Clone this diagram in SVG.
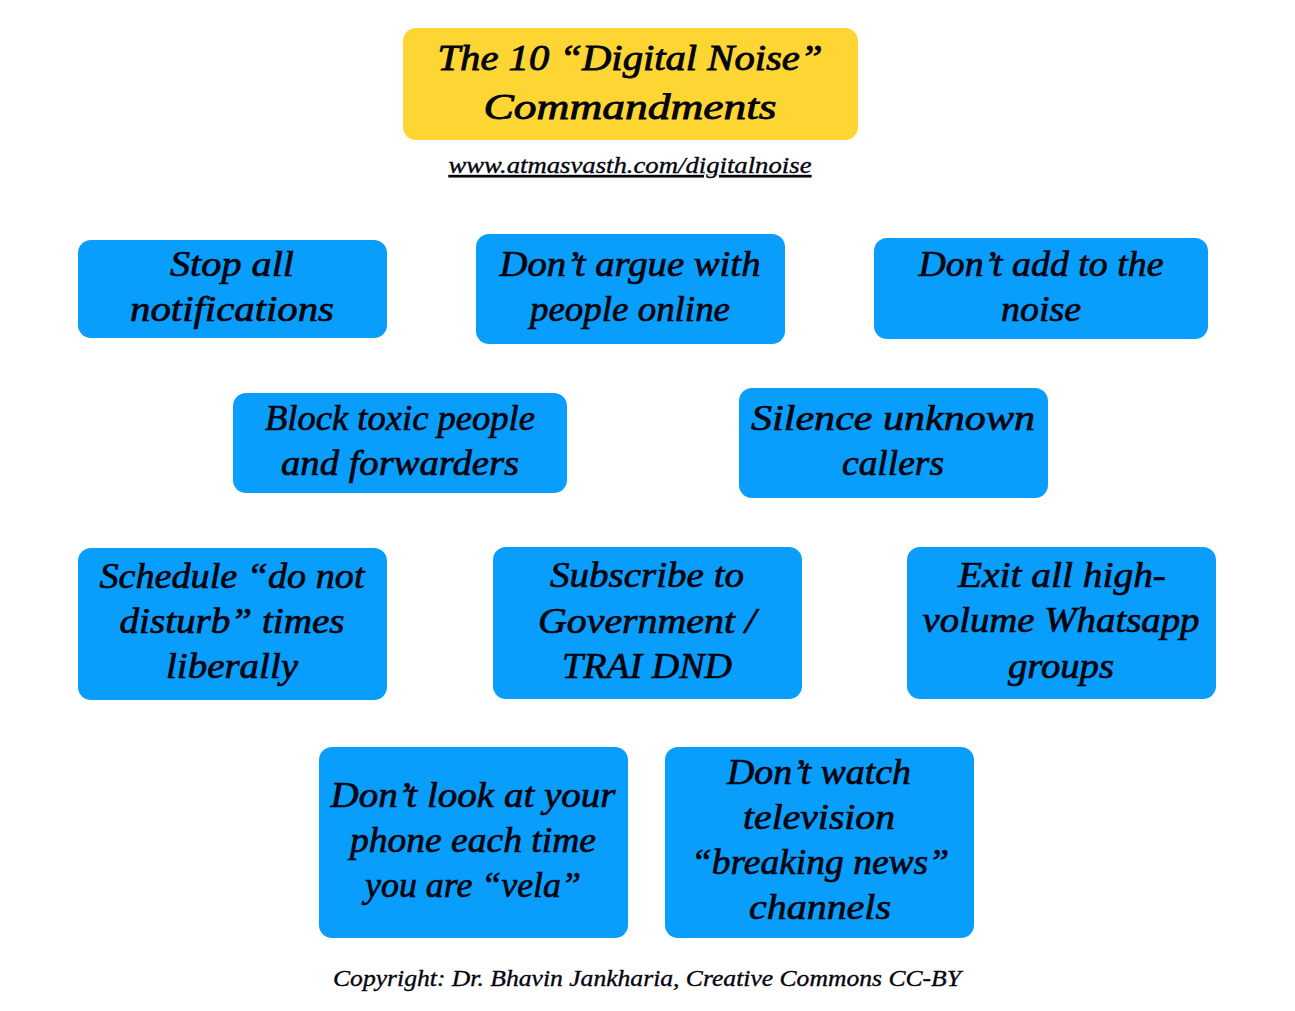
<svg xmlns="http://www.w3.org/2000/svg" width="1295" height="1011" viewBox="0 0 1295 1011">
<style>
.b{fill:#0a9efc}
.y{fill:#fdd633}
text{font-family:"Liberation Serif",serif;font-style:italic;fill:#050510;stroke:#050510;text-anchor:middle}
.t{font-size:36px;stroke-width:.9px}
.n{font-size:35px;stroke-width:.7px}
.s{font-size:23px;stroke-width:.35px}
</style>
<rect width="1295" height="1011" fill="#fff"/>
<g id="title"><rect class="y" x="403" y="28" width="455" height="112" rx="13"/>
<text class="t" x="630" y="70" textLength="385" lengthAdjust="spacingAndGlyphs">The 10 “Digital Noise”</text>
<text class="t" x="630" y="119" textLength="293" lengthAdjust="spacingAndGlyphs">Commandments</text></g>
<g id="url"><text class="s" x="630" y="173" textLength="363" lengthAdjust="spacingAndGlyphs" text-decoration="underline">www.atmasvasth.com/digitalnoise</text></g>
<g id="n1"><rect class="b" x="78" y="240" width="309" height="98" rx="13"/>
<text class="n" x="232" y="276" textLength="124" lengthAdjust="spacingAndGlyphs">Stop all</text>
<text class="n" x="232" y="321" textLength="204" lengthAdjust="spacingAndGlyphs">notifications</text></g>
<g id="n2"><rect class="b" x="476" y="234" width="309" height="110" rx="13"/>
<text class="n" x="630" y="276" textLength="261" lengthAdjust="spacingAndGlyphs">Don’t argue with</text>
<text class="n" x="630" y="321" textLength="200" lengthAdjust="spacingAndGlyphs">people online</text></g>
<g id="n3"><rect class="b" x="874" y="238" width="334" height="101" rx="13"/>
<text class="n" x="1041" y="276" textLength="245" lengthAdjust="spacingAndGlyphs">Don’t add to the</text>
<text class="n" x="1041" y="321" textLength="80" lengthAdjust="spacingAndGlyphs">noise</text></g>
<g id="n4"><rect class="b" x="233" y="393" width="334" height="100" rx="13"/>
<text class="n" x="400" y="430" textLength="270" lengthAdjust="spacingAndGlyphs">Block toxic people</text>
<text class="n" x="400" y="475" textLength="238" lengthAdjust="spacingAndGlyphs">and forwarders</text></g>
<g id="n5"><rect class="b" x="739" y="388" width="309" height="110" rx="13"/>
<text class="n" x="893" y="430" textLength="284" lengthAdjust="spacingAndGlyphs">Silence unknown</text>
<text class="n" x="893" y="475" textLength="102" lengthAdjust="spacingAndGlyphs">callers</text></g>
<g id="n6"><rect class="b" x="78" y="548" width="309" height="152" rx="13"/>
<text class="n" x="232" y="588" textLength="265" lengthAdjust="spacingAndGlyphs">Schedule “do not</text>
<text class="n" x="232" y="633" textLength="225" lengthAdjust="spacingAndGlyphs">disturb” times</text>
<text class="n" x="232" y="678" textLength="132" lengthAdjust="spacingAndGlyphs">liberally</text></g>
<g id="n7"><rect class="b" x="493" y="547" width="309" height="152" rx="13"/>
<text class="n" x="647" y="587" textLength="194" lengthAdjust="spacingAndGlyphs">Subscribe to</text>
<text class="n" x="647" y="633" textLength="218" lengthAdjust="spacingAndGlyphs">Government /</text>
<text class="n" x="647" y="678" textLength="170" lengthAdjust="spacingAndGlyphs">TRAI DND</text></g>
<g id="n8"><rect class="b" x="907" y="547" width="309" height="152" rx="13"/>
<text class="n" x="1062" y="587" textLength="208" lengthAdjust="spacingAndGlyphs">Exit all high-</text>
<text class="n" x="1061" y="632" textLength="277" lengthAdjust="spacingAndGlyphs">volume Whatsapp</text>
<text class="n" x="1061" y="678" textLength="106" lengthAdjust="spacingAndGlyphs">groups</text></g>
<g id="n9"><rect class="b" x="319" y="747" width="309" height="191" rx="13"/>
<text class="n" x="473" y="807" textLength="285" lengthAdjust="spacingAndGlyphs">Don’t look at your</text>
<text class="n" x="473" y="852" textLength="246" lengthAdjust="spacingAndGlyphs">phone each time</text>
<text class="n" x="473" y="897" textLength="216" lengthAdjust="spacingAndGlyphs">you are “vela”</text></g>
<g id="n10"><rect class="b" x="665" y="747" width="309" height="191" rx="13"/>
<text class="n" x="819" y="784" textLength="184" lengthAdjust="spacingAndGlyphs">Don’t watch</text>
<text class="n" x="819" y="829" textLength="152" lengthAdjust="spacingAndGlyphs">television</text>
<text class="n" x="820" y="874" textLength="258" lengthAdjust="spacingAndGlyphs">“breaking news”</text>
<text class="n" x="820" y="919" textLength="142" lengthAdjust="spacingAndGlyphs">channels</text></g>
<g id="copyright"><text class="s" x="647" y="986" textLength="628" lengthAdjust="spacingAndGlyphs">Copyright: Dr. Bhavin Jankharia, Creative Commons CC-BY</text></g>
<g id="connectors"></g>
</svg>
